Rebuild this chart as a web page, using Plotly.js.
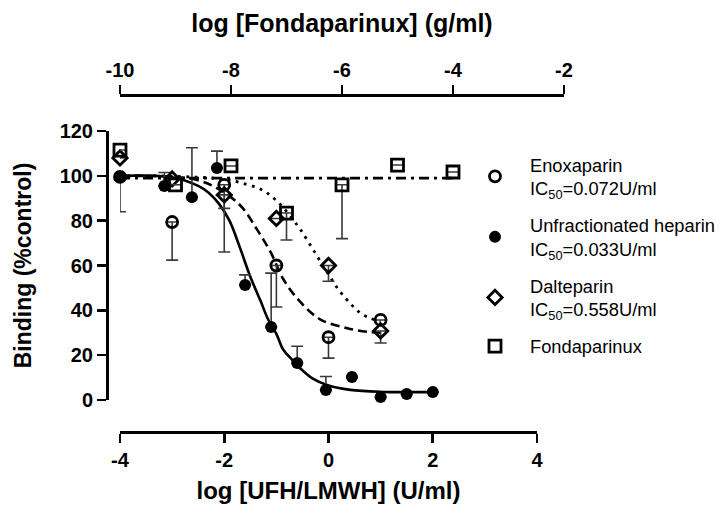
<!DOCTYPE html>
<html>
<head>
<meta charset="utf-8">
<script src="https://cdn.plot.ly/plotly-3.0.1.min.js"></script>
<style>html,body{margin:0;padding:0;background:#fff;}#chart{width:724px;height:515px;}</style>
</head>
<body>
<div id="chart"></div>
<script>
// ---- data ----
const ufhX = [-4, -3.15, -2.62, -2.14, -1.6, -1.1, -0.6, -0.05, 0.45, 1.0, 1.5, 2.0];
const ufhY = [99.5, 95.5, 90.5, 103.5, 51.3, 32.6, 16.5, 4.5, 10.3, 1.3, 2.7, 3.6];
const ufhErrUp = [0, 6, 22, 7.5, 4.5, 24, 7.5, 6, 0, 0, 0, 0];

const enoxX = [-4, -3, -2, -1, 0, 1];
const enoxY = [99.5, 79.4, 96, 60, 28, 35.7];
const enoxErrDown = [15.5, 17, 30, 18.5, 9.3, 0];

const daltX = [-4, -3, -2, -1, 0, 1];
const daltY = [108, 98.6, 91.5, 81, 60, 30.8];
const daltErrDown = [0, 0, 6, 0, 7, 5.4];

const fondaX = [-10, -9, -8, -7, -6, -5, -4];
const fondaY = [111.5, 96, 104.4, 83.4, 96, 104.8, 101.7];
const fondaErrDown = [0, 0, 0, 12, 24, 0, 0];

// fitted curves
const ufhFitX = [-4, -3, -2.5, -2.3, -2.1, -1.9, -1.7, -1.5, -1.3, -1.16, -1.0, -0.87, -0.7, -0.55, -0.3, -0.03, 0.42, 1.05, 1.5, 2];
const ufhFitY = [100, 99.4, 95.5, 92.5, 87.5, 80, 68, 55, 44, 36, 29.5, 22.5, 18, 14.3, 9.5, 6.7, 4.5, 3.6, 3.5, 3.5];
const enoxFitX = [-4, -3, -2.5, -2.14, -1.7, -1.37, -1.1, -0.87, -0.55, -0.16, 0.36, 0.8, 1];
const enoxFitY = [100, 99.6, 98, 94.5, 87, 76, 65.5, 54, 44, 36, 32, 30.3, 30];
const daltFitX = [-4, -3, -2, -1.7, -1.3, -1, -0.6, -0.4, -0.2, 0, 0.2, 0.4, 0.6, 0.8, 1];
const daltFitY = [100, 99.8, 98.5, 97, 94, 89, 78, 71, 63.5, 56, 49, 43.5, 39, 36.5, 35];
const fondaFitX = [-10, -4];
const fondaFitY = [99, 99];

const bottomTicks = [-4, -2, 0, 2, 4];
const topTicks = [-10, -8, -6, -4, -2];
const yTicks = [0, 20, 40, 60, 80, 100, 120];

const legendNames = [
  'Enoxaparin<br>IC<sub>50</sub>=0.072U/ml',
  'Unfractionated heparin<br>IC<sub>50</sub>=0.033U/ml',
  'Dalteparin<br>IC<sub>50</sub>=0.558U/ml',
  'Fondaparinux'
];

// ---- layout helpers (pixel -> paper fraction) ----
const W = 724, H = 515;
const M = {l: 50, r: 0, t: 40, b: 40};
const PW = W - M.l - M.r, PH = H - M.t - M.b;
const fx = px => (px - M.l) / PW;
const fy = py => (H - M.b - py) / PH;

const FONT = 'Liberation Sans, Arial, Helvetica, sans-serif';
const errStyle = {color: '#3a3a3a', thickness: 1.6, width: 6};

const traces = [
  {x: ufhFitX, y: ufhFitY, mode: 'lines', line: {color: '#000', width: 2.6, shape: 'spline'}, showlegend: false, hoverinfo: 'skip'},
  {x: enoxFitX, y: enoxFitY, mode: 'lines', line: {color: '#000', width: 2.6, dash: '9px,5px', shape: 'spline'}, showlegend: false, hoverinfo: 'skip'},
  {x: daltFitX, y: daltFitY, mode: 'lines', line: {color: '#000', width: 2.8, dash: '2.8px,5.5px', shape: 'spline'}, showlegend: false, hoverinfo: 'skip'},
  {x: fondaFitX, y: fondaFitY, xaxis: 'x2', yaxis: 'y', mode: 'lines', line: {color: '#000', width: 2.8, dash: '10px,5px,3px,5px'}, showlegend: false, hoverinfo: 'skip'},
  {x: enoxX, y: enoxY, name: legendNames[0], legendgroup: 'a', mode: 'markers', cliponaxis: false,
   marker: {symbol: 'circle-open', size: 11, color: '#000', line: {width: 2.8}},
   error_y: Object.assign({type: 'data', symmetric: false, array: enoxX.map(() => 0), arrayminus: enoxErrDown}, errStyle)},
  {x: ufhX, y: ufhY, name: legendNames[1], legendgroup: 'b', mode: 'markers', cliponaxis: false,
   marker: {symbol: 'circle', size: 12, color: '#000'},
   error_y: Object.assign({type: 'data', symmetric: false, array: ufhErrUp, arrayminus: ufhX.map(() => 0)}, errStyle)},
  {x: daltX, y: daltY, name: legendNames[2], legendgroup: 'c', mode: 'markers', cliponaxis: false,
   marker: {symbol: 'diamond-open', size: 11, color: '#000', line: {width: 2.8}},
   error_y: Object.assign({type: 'data', symmetric: false, array: daltX.map(() => 0), arrayminus: daltErrDown}, errStyle)},
  {x: fondaX, y: fondaY, xaxis: 'x2', yaxis: 'y', name: legendNames[3], legendgroup: 'd', mode: 'markers', cliponaxis: false,
   marker: {symbol: 'square-open', size: 12, color: '#000', line: {width: 2.8}},
   error_y: Object.assign({type: 'data', symmetric: false, array: fondaX.map(() => 0), arrayminus: fondaErrDown}, errStyle)}
];

const axisCommon = {
  showgrid: false, zeroline: false, showline: true, linecolor: '#000', linewidth: 2.6,
  ticks: 'outside', ticklen: 9, tickwidth: 2.6, tickcolor: '#000',
  tickfont: {family: FONT, size: 20, weight: 'bold', color: '#000'}
};

const layout = {
  width: W, height: H, margin: M, paper_bgcolor: '#fff', plot_bgcolor: 'rgba(0,0,0,0)',
  font: {family: FONT, color: '#000'},
  showlegend: true,
  xaxis: Object.assign({}, axisCommon, {
    domain: [fx(120), fx(537)], range: [-4, 4], tickvals: bottomTicks, ticktext: bottomTicks.map(String),
    anchor: 'free', position: fy(432),
    title: {text: 'log [UFH/LMWH] (U/ml)', font: {family: FONT, size: 24, weight: 'bold', color: '#000'}, standoff: 12}
  }),
  xaxis2: Object.assign({}, axisCommon, {
    domain: [fx(120), fx(564)], range: [-10, -2], tickvals: topTicks, ticktext: topTicks.map(String),
    anchor: 'free', position: fy(95), side: 'top',
    title: {text: 'log [Fondaparinux] (g/ml)', font: {family: FONT, size: 25, weight: 'bold', color: '#000'}, standoff: 18}
  }),
  yaxis: Object.assign({}, axisCommon, {
    domain: [fy(400), fy(131)], range: [0, 120], tickvals: yTicks, ticktext: yTicks.map(String),
    anchor: 'free', position: fx(107),
    title: {text: 'Binding (%control)', font: {family: FONT, size: 23, weight: 'bold', color: '#000'}, standoff: 20}
  }),
  legend: {
    x: fx(460), y: fy(146), xanchor: 'left', yanchor: 'top',
    font: {family: FONT, size: 18.3, color: '#000'},
    bgcolor: 'rgba(0,0,0,0)', tracegroupgap: 10, valign: 'middle', itemwidth: 60
  }
};

Plotly.newPlot('chart', traces, layout, {staticPlot: true, displayModeBar: false});
</script>
</body>
</html>
